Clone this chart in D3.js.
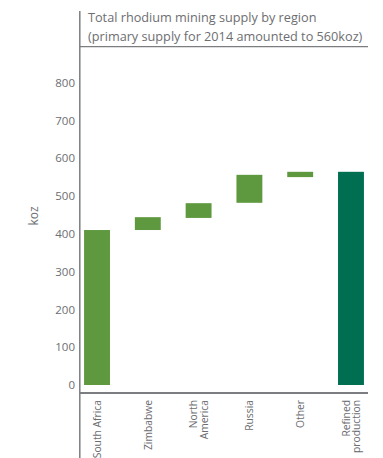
<!DOCTYPE html>
<html>
<head>
<meta charset="utf-8">
<script src="https://cdn.jsdelivr.net/npm/d3@7"></script>
<style>
  html, body { margin: 0; padding: 0; background: #fff; }
  svg { display: block; }
  text { font-family: "Open Sans", sans-serif; fill: #6d6e71; }
</style>
</head>
<body>
<svg id="chart" width="383" height="458"></svg>
<script>
// Rhodium supply by region, 2014 (koz) — each bar runs from its low to its high value
const categories = [["South Africa"], ["Zimbabwe"], ["North", "America"], ["Russia"], ["Other"], ["Refined", "production"]];
const lows  = [0, 410, 442, 482, 550, 0];
const highs = [410, 444, 481, 556, 564, 564];
const barColors = ["#5f993f", "#5f993f", "#5f993f", "#5f993f", "#5f993f", "#006f51"];
const yTicks = [0, 100, 200, 300, 400, 500, 600, 700, 800];
const titleLines = ["Total rhodium mining supply by region", "(primary supply for 2014 amounted to 560koz)"];
const yLabel = "koz";

const svg = d3.select("#chart");
const axisColor = "#7b7d80";

const x = d3.scaleBand()
  .domain(d3.range(categories.length))
  .range([80, 368])
  .paddingInner(0.49)
  .paddingOuter(0.08);

const y = d3.scaleLinear().domain([0, 800]).range([385, 82.6]);

// Title block
titleLines.forEach((t, i) => {
  svg.append("text")
    .attr("x", 88).attr("y", 22 + i * 18.5)
    .attr("font-size", 12.7)
    .text(t);
});
svg.append("line")
  .attr("x1", 80).attr("x2", 368).attr("y1", 46.7).attr("y2", 46.7)
  .attr("stroke", axisColor).attr("stroke-width", 1.2);

// Vertical axis line (runs through the whole frame)
svg.append("line")
  .attr("x1", 79.8).attr("x2", 79.8).attr("y1", 11).attr("y2", 458)
  .attr("stroke", axisColor).attr("stroke-width", 1.5);

// Y tick labels
const yAxis = d3.axisLeft(y).tickValues(yTicks).tickSize(0).tickPadding(0).tickFormat(d3.format("d"));
const gy = svg.append("g").attr("transform", "translate(75,0)").call(yAxis);
gy.select(".domain").remove();
gy.selectAll("text")
  .attr("font-size", 11.5)
  .attr("fill", "#6d6e71")
  .style("font-family", "\"Open Sans\", sans-serif");

svg.append("text")
  .attr("transform", "translate(38,216) rotate(-90)")
  .attr("text-anchor", "middle")
  .attr("font-size", 12)
  .text(yLabel);

// Bars
svg.append("g").selectAll("rect")
  .data(categories.map((c, i) => i))
  .join("rect")
  .attr("x", i => x(i))
  .attr("width", x.bandwidth())
  .attr("y", i => y(highs[i]))
  .attr("height", i => y(lows[i]) - y(highs[i]))
  .attr("fill", i => barColors[i]);

// Bottom axis line
svg.append("line")
  .attr("x1", 80).attr("x2", 368).attr("y1", 393).attr("y2", 393)
  .attr("stroke", axisColor).attr("stroke-width", 1.8);

// Category labels, rotated to read bottom-up
const lineGap = 10.5;
categories.forEach((lines, i) => {
  const cx = x(i) + x.bandwidth() / 2;
  const n = lines.length;
  lines.forEach((t, j) => {
    const off = (j - (n - 1) / 2) * lineGap;
    svg.append("text")
      .attr("transform", `translate(${cx + off + 4},400) rotate(-90)`)
      .attr("text-anchor", "end")
      .attr("font-size", 10.3)
      .text(t);
  });
});
</script>
</body>
</html>
